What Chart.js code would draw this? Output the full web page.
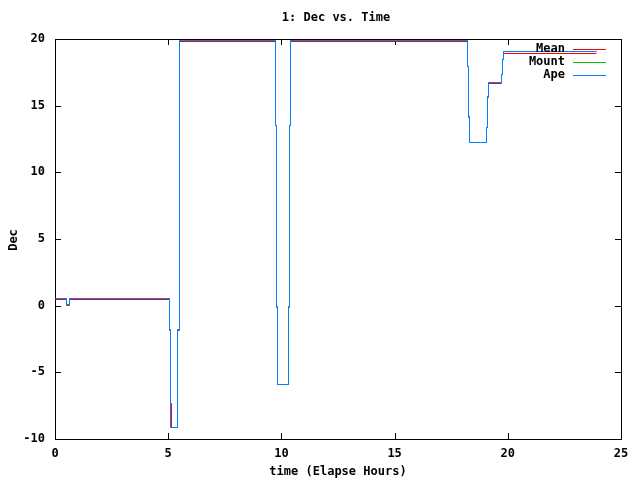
<!DOCTYPE html>
<html>
<head>
<meta charset="utf-8">
<script src="https://cdn.jsdelivr.net/npm/chart.js@4"></script>
<style>
html,body{margin:0;padding:0;background:#fff;}
#wrap{width:640px;height:480px;}
</style>
</head>
<body>
<div id="wrap"><canvas id="c" width="640" height="480"></canvas></div>
<script>
const titleText = "1: Dec vs. Time";
const xLabel = "time (Elapse Hours)";
const yLabel = "Dec";
const xTicks = [0, 5, 10, 15, 20, 25];
const yTicks = [-10, -5, 0, 5, 10, 15, 20];
const seriesNames = ["Mean", "Mount", "Ape"];

// change points (step-before): value becomes y at hour x
const meanHours = [0, 0.52, 0.62, 5.05, 5.10, 5.13, 5.40, 5.48, 5.51, 9.75, 9.79, 9.83, 10.30, 10.35, 10.41, 18.21, 18.26, 18.30, 19.07, 19.11, 19.16, 19.73, 19.77, 19.80, 23.90];
const meanDec   = [0.50, 0.00, 0.50, -1.85, -7.3, -9.15, -1.85, 12.60, 19.78, 13.5, -0.1, -5.9, -0.1, 13.5, 19.82, 17.95, 14.15, 12.25, 13.35, 15.65, 16.68, 17.3, 18.45, 18.95, 18.95];

const apeHours = [0, 0.52, 0.62, 5.05, 5.12, 5.40, 5.48, 5.51, 9.75, 9.79, 9.83, 10.30, 10.35, 10.41, 18.21, 18.26, 18.30, 19.07, 19.11, 19.16, 19.73, 19.77, 19.80, 23.90];
const apeDec   = [0.55, 0.10, 0.55, -1.80, -9.10, -1.80, 12.65, 19.88, 13.5, -0.08, -5.9, -0.08, 13.5, 19.88, 17.97, 14.17, 12.25, 13.37, 15.67, 16.75, 17.3, 18.48, 19.08, 19.08];

const mountHours = apeHours.slice();
const mountDec   = apeDec.slice();

const colors = ["#ff0000", "#00c000", "#0080ff"];
const FONT = "DejaVu Sans Mono";

function pts(xs, ys){ return xs.map((x,i)=>({x:x, y:ys[i]})); }

const snap = {
  id: 'snap',
  afterDatasetsUpdate(chart){
    chart.data.datasets.forEach((ds,i)=>{
      chart.getDatasetMeta(i).data.forEach(p=>{
        p.x = Math.floor(p.x) + 0.5;
        p.y = Math.floor(p.y) + 0.5;
      });
    });
  }
};

const decor = {
  id: 'decor',
  beforeDatasetsDraw(chart){
    const ctx = chart.ctx, a = chart.chartArea;
    const xs = chart.scales.x, ys = chart.scales.y;
    ctx.save();
    ctx.strokeStyle = '#000';
    ctx.lineWidth = 1;
    ctx.strokeRect(Math.round(a.left)+0.5, Math.round(a.top)+0.5, Math.round(a.right-a.left), Math.round(a.bottom-a.top));
    ctx.beginPath();
    const tl = 6;
    xTicks.forEach(v=>{
      const px = Math.round(xs.getPixelForValue(v))+0.5;
      ctx.moveTo(px, a.bottom); ctx.lineTo(px, a.bottom - tl);
      ctx.moveTo(px, a.top); ctx.lineTo(px, a.top + tl);
    });
    yTicks.forEach(v=>{
      const py = Math.round(ys.getPixelForValue(v))+0.5;
      ctx.moveTo(a.left, py); ctx.lineTo(a.left + tl, py);
      ctx.moveTo(a.right, py); ctx.lineTo(a.right - tl, py);
    });
    ctx.stroke();
    ctx.restore();
  },
  afterDraw(chart){
    const ctx = chart.ctx;
    ctx.save();
    ctx.fillStyle = '#000';
    ctx.font = 'bold 12px "' + FONT + '"';
    ctx.textAlign = 'center';
    ctx.textBaseline = 'middle';
    ctx.fillText(titleText, 336, 18);
    ctx.fillText(xLabel, 338, 472);
    ctx.save();
    ctx.translate(14, 240);
    ctx.rotate(-Math.PI/2);
    ctx.fillText(yLabel, 0, 0);
    ctx.restore();
    // legend
    ctx.textAlign = 'right';
    chart.data.datasets.forEach((ds,i)=>{
      const y = 49 + i*13;
      ctx.fillStyle = '#000';
      ctx.fillText(ds.label, 565, y);
      ctx.strokeStyle = ds.borderColor;
      ctx.lineWidth = 1;
      ctx.beginPath();
      ctx.moveTo(573, y+0.5); ctx.lineTo(606, y+0.5);
      ctx.stroke();
    });
    ctx.restore();
  }
};

new Chart(document.getElementById('c'), {
  type: 'line',
  data: {
    datasets: [
      {label: seriesNames[0], data: pts(meanHours, meanDec), borderColor: colors[0], order: 2},
      {label: seriesNames[1], data: pts(mountHours, mountDec), borderColor: colors[1], order: 1},
      {label: seriesNames[2], data: pts(apeHours, apeDec), borderColor: colors[2], order: 0}
    ].map(d=>Object.assign(d, {borderWidth:1, pointRadius:0, stepped:true, tension:0, fill:false}))
  },
  options: {
    responsive: false,
    animation: false,
    layout: {padding: {top: 39, right: 19, left: 0, bottom: 0}},
    plugins: {legend: {display:false}, title:{display:false}, tooltip:{enabled:false}},
    scales: {
      x: {
        type: 'linear', min: 0, max: 25,
        afterFit(s){ s.height = 41; },
        afterBuildTicks(s){ s.ticks = xTicks.map(v=>({value:v})); },
        grid: {display:false}, border:{display:false},
        ticks: {color:'#000', padding: 0, maxRotation:0, font:{family:FONT, size:12, weight:'bold'}}
      },
      y: {
        min: -10, max: 20,
        afterFit(s){ s.width = 55; },
        afterBuildTicks(s){ s.ticks = yTicks.map(v=>({value:v})); },
        grid: {display:false}, border:{display:false},
        ticks: {color:'#000', padding: 2, font:{family:FONT, size:12, weight:'bold'}}
      }
    }
  },
  plugins: [snap, decor]
});
</script>
</body>
</html>
